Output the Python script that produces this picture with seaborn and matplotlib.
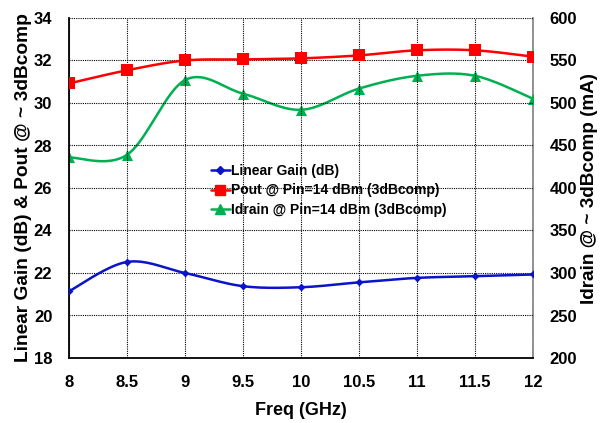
import numpy as np
import pandas as pd
import matplotlib
matplotlib.use("Agg")
import matplotlib.pyplot as plt
import seaborn as sns
from matplotlib.lines import Line2D

freq = [8, 8.5, 9, 9.5, 10, 10.5, 11, 11.5, 12]
gain = [21.14, 22.52, 22.0, 21.38, 21.33, 21.56, 21.77, 21.85, 21.93]
pout = [30.92, 31.54, 32.0, 32.05, 32.1, 32.24, 32.48, 32.48, 32.18]
idrain = [436, 439, 527, 511, 492, 517, 532, 532, 505]

x_ticks = [8, 8.5, 9, 9.5, 10, 10.5, 11, 11.5, 12]
x_ticklabels = ["8", "8.5", "9", "9.5", "10", "10.5", "11", "11.5", "12"]
left_ticks = [18, 20, 22, 24, 26, 28, 30, 32, 34]
right_ticks = [200, 250, 300, 350, 400, 450, 500, 550, 600]

labels = ["Linear Gain (dB)", "Pout @ Pin=14 dBm (3dBcomp)", "Idrain @ Pin=14 dBm (3dBcomp)"]
colors = ["#0a14c8", "#ff0000", "#00b050"]

sns.set_style("white")
plt.rcParams['font.family'] = ['Liberation Sans', 'DejaVu Sans']
plt.rcParams['font.weight'] = 'bold'
plt.rcParams['text.color'] = 'black'
plt.rcParams['axes.labelcolor'] = 'black'
plt.rcParams['xtick.color'] = 'black'
plt.rcParams['ytick.color'] = 'black'


def smooth(xs, ys, n=20):
    """Excel-style smoothed rendering (Catmull-Rom through the points)."""
    xs = np.asarray(xs, float); ys = np.asarray(ys, float)
    px = np.concatenate([[xs[0]], xs, [xs[-1]]])
    py = np.concatenate([[ys[0]], ys, [ys[-1]]])
    ox, oy = [], []
    for i in range(1, len(px) - 2):
        p0, p1, p2, p3 = (np.array([px[j], py[j]]) for j in (i - 1, i, i + 1, i + 2))
        c1 = p1 + (p2 - p0) / 6
        c2 = p2 - (p3 - p1) / 6
        t = np.linspace(0, 1, n, endpoint=(i == len(px) - 3))[:, None]
        pts = ((1 - t) ** 3) * p1 + 3 * ((1 - t) ** 2) * t * c1 + 3 * (1 - t) * t * t * c2 + t ** 3 * p2
        ox.extend(pts[:, 0]); oy.extend(pts[:, 1])
    return np.array(ox), np.array(oy)


fig = plt.figure(figsize=(6.04, 4.23), dpi=100)
ax = fig.add_axes([69 / 604, 1 - 358 / 423, (533 - 69) / 604, (358 - 18) / 423])
ax2 = ax.twinx()

# left axis series
for ys, c, m, ms, lab in [(gain, colors[0], "D", 4, labels[0]), (pout, colors[1], "s", 8, labels[1])]:
    sx, sy = smooth(freq, ys)
    sns.lineplot(x=sx, y=sy, ax=ax, color=c, linewidth=1.8, sort=False, estimator=None)
    sns.scatterplot(x=freq, y=ys, ax=ax, color=c, marker=m, s=ms ** 2, edgecolor=c, linewidth=0, zorder=5)

# right axis
sx, sy = smooth(freq, idrain)
sns.lineplot(x=sx, y=sy, ax=ax2, color=colors[2], linewidth=1.8, sort=False, estimator=None)
sns.scatterplot(x=freq, y=idrain, ax=ax2, color=colors[2], marker="^", s=64, edgecolor=colors[2], linewidth=0, zorder=5)

ax.set_xlim(8, 12)
ax.set_ylim(18, 34)
ax2.set_ylim(200, 600)
ax.set_xticks(x_ticks)
ax.set_xticklabels(x_ticklabels)
ax.set_yticks(left_ticks)
ax2.set_yticks(right_ticks)

ax.grid(True, color="black", linestyle=(0, (1, 1)), linewidth=0.8)
ax2.grid(False)
ax.set_axisbelow(True)

for a in (ax, ax2):
    a.tick_params(length=0, labelsize=12, labelcolor="black")
    for s in a.spines.values():
        s.set_visible(False)
ax.spines["left"].set_visible(True); ax.spines["left"].set_color("black"); ax.spines["left"].set_linewidth(1.3)
ax.spines["bottom"].set_visible(True); ax.spines["bottom"].set_color("black"); ax.spines["bottom"].set_linewidth(1.3)
ax2.spines["right"].set_visible(True); ax2.spines["right"].set_color("#808080"); ax2.spines["right"].set_linewidth(1.2)

ax.tick_params(axis="x", pad=12)
ax.tick_params(axis="y", pad=12)
ax2.tick_params(axis="y", pad=12)
for t in ax.get_xticklabels() + ax.get_yticklabels() + ax2.get_yticklabels():
    t.set_fontweight("bold")

ax.set_xlabel("Freq (GHz)", fontsize=13, fontweight="bold", labelpad=9, color="black")
ax.set_ylabel("Linear Gain (dB) & Pout @ ~ 3dBcomp", fontsize=13.8, fontweight="bold", labelpad=1, color="black")
ax2.set_ylabel("Idrain @ ~ 3dBcomp (mA)", fontsize=13.6, fontweight="bold", rotation=90, labelpad=3, color="black")

handles = [
    Line2D([], [], color=colors[0], marker="D", markersize=4, linewidth=1.8),
    Line2D([], [], color=colors[1], marker="s", markersize=7, linewidth=1.8),
    Line2D([], [], color=colors[2], marker="^", markersize=7, linewidth=1.8),
]
leg = ax.legend(handles, labels, loc="center left", bbox_to_anchor=(0.29, 0.493), frameon=False,
                fontsize=10, handlelength=1.4, handletextpad=0.1, labelspacing=0.4, borderpad=0)
for t in leg.get_texts():
    t.set_fontweight("bold")
    t.set_color("black")
ax.set_zorder(ax2.get_zorder() + 1)
ax.patch.set_visible(False)
ax2.patch.set_visible(False)

fig.savefig("out.png", dpi=100)
